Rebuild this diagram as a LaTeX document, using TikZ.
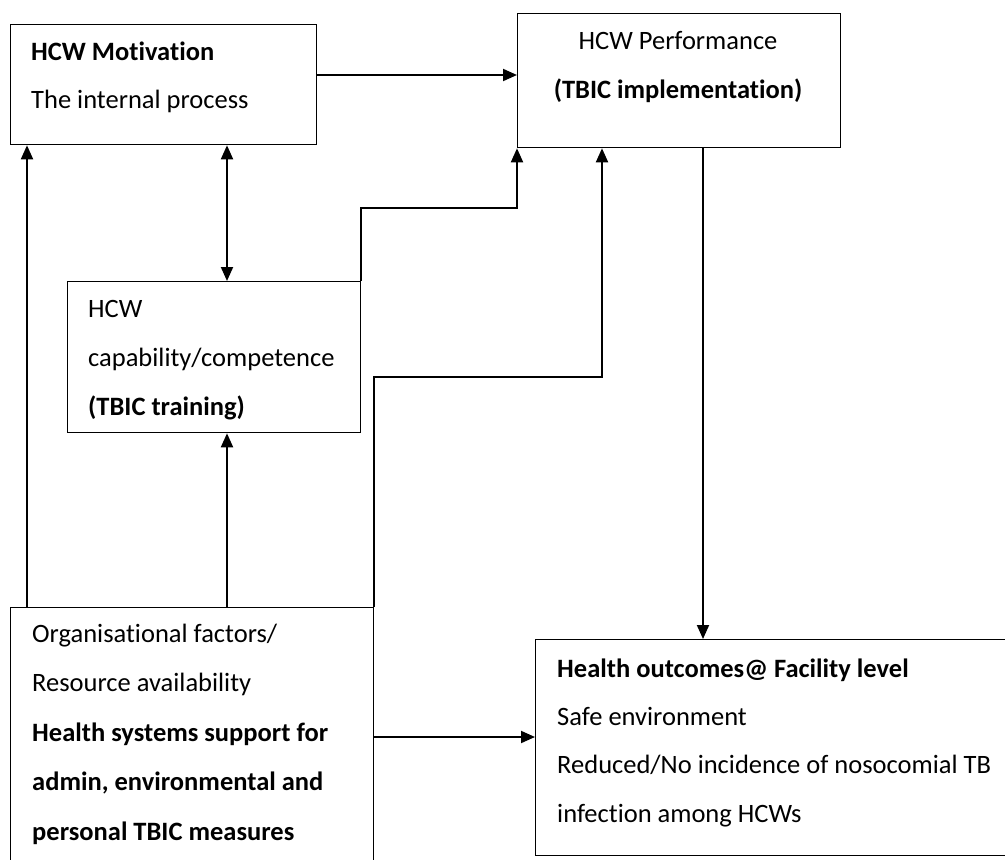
\documentclass[tikz,border=0pt]{standalone}
\usepackage{fontspec}
\setmainfont{Carlito}[Ligatures=NoCommon]
\usetikzlibrary{arrows.meta}

\begin{document}
\begin{tikzpicture}[x=1pt, y=-1pt,
    box/.style={draw, line width=1.3pt, rectangle, inner sep=0pt, anchor=north west},
    txt/.style={anchor=base west, inner sep=0pt, font=\fontsize{26.5}{32}\selectfont},
    arr/.style={line width=1.9pt, -{Triangle[length=14pt, width=12pt]}},
    dblarr/.style={line width=1.9pt, {Triangle[length=14pt, width=12pt]}-{Triangle[length=14pt, width=12pt]}}]
    \useasboundingbox (0,0) rectangle (1005,860);
    \clip (0,0) rectangle (1005,860);

    % Boxes
    \node[box, minimum width=306pt, minimum height=120pt] (mot) at (10,24) {};
    \node[box, minimum width=323pt, minimum height=134pt] (perf) at (517,13) {};
    \node[box, minimum width=293pt, minimum height=151pt] (cap) at (67,281) {};
    \node[box, minimum width=363pt, minimum height=262pt] (org) at (10,607) {};
    \node[box, minimum width=480pt, minimum height=216pt] (health) at (535,639) {};

    % Texts
    \node[txt, font=\fontsize{26.5}{32}\selectfont\bfseries] (motA) at (31,60) {HCW Motivation};
    \node[txt] (motB) at (31,108) {The internal process};
    \node[txt, anchor=base] (perfA) at (678,49) {HCW Performance};
    \node[txt, anchor=base, font=\fontsize{26.5}{32}\selectfont\bfseries] (perfB) at (678,98) {(TBIC implementation)};
    \node[txt] (capA) at (88,317) {HCW};
    \node[txt] (capB) at (88,366) {capability/competence};
    \node[txt, font=\fontsize{26.5}{32}\selectfont\bfseries] (capC) at (88,415) {(TBIC training)};
    \node[txt] (orgA) at (32,642) {Organisational factors/};
    \node[txt] (orgB) at (32,691) {Resource availability};
    \node[txt, font=\fontsize{26.5}{32}\selectfont\bfseries] (orgC) at (32,741) {Health systems support for};
    \node[txt, font=\fontsize{26.5}{32}\selectfont\bfseries] (orgD) at (32,790) {admin, environmental and};
    \node[txt, font=\fontsize{26.5}{32}\selectfont\bfseries] (orgE) at (32,840) {personal TBIC measures};
    \node[txt, font=\fontsize{26.5}{32}\selectfont\bfseries] (healthA) at (557,677) {Health outcomes@ Facility level};
    \node[txt] (healthB) at (557,725) {Safe environment};
    \node[txt] (healthC) at (557,773) {Reduced/No incidence of nosocomial TB};
    \node[txt] (healthD) at (557,822) {infection among HCWs};

    % Turning points
    \coordinate (left) at (27,0);
    \coordinate (mid) at (227,0);
    \coordinate (step1) at (0,208);
    \coordinate (step2) at (602,377);
    \coordinate (down) at (703,0);
    \coordinate (side) at (0,737);
    \coordinate (top) at (0,75);

    % Arrows
    \draw[arr] (mot.east |- top) -- (perf.west |- top);
    \draw[arr] (org.north -| left) -- (mot.south -| left);
    \draw[dblarr] (mot.south -| mid) -- (cap.north -| mid);
    \draw[arr] (org.north -| mid) -- (cap.south -| mid);
    \draw[arr] (cap.north east) -- (cap.north east |- step1) -| (perf.south west);
    \draw[arr] (org.north east) |- (step2) -- (step2 |- perf.south);
    \draw[arr] (perf.south -| down) -- (health.north -| down);
    \draw[arr] (org.east |- side) -- (health.west |- side);
\end{tikzpicture}
\end{document}
